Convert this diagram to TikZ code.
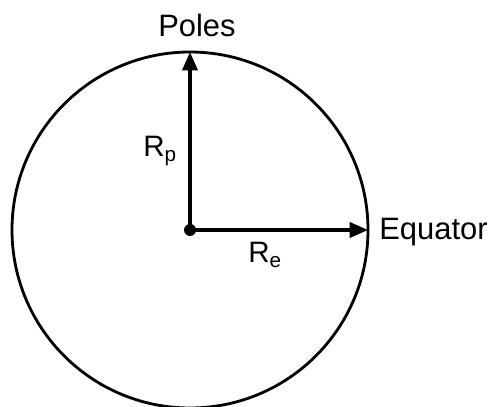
\documentclass[tikz,border=0pt]{standalone}
\usepackage{fontspec}
\setmainfont{Liberation Sans}
\usetikzlibrary{arrows.meta,positioning}
\tikzset{
    every picture/.style={line cap=round,line join=round},
    globe/.style={draw=black,line width=2pt},
    radiusarrow/.style={-{Triangle[length=4.6mm,width=3.8mm]},draw=black,
      line width=2.4pt},
    centerdot/.style={circle,fill=black,minimum size=3mm,inner sep=0pt},
    axislabel/.style={font=\fontsize{22}{26}\selectfont,inner sep=0pt},
    radiuslabel/.style={font=\fontsize{21}{24}\selectfont,inner sep=0pt}
}
\begin{document}
\begin{tikzpicture}[x=0.025cm,y=0.025cm]
  \useasboundingbox (0,0) rectangle (493,407);
  \node[centerdot] (c) at (190,177) {};
  \draw[globe] (c.center) circle[radius=178];
  \coordinate (pole) at (190,355);
  \coordinate (eq) at (368,177);
  \draw[radiusarrow] (c.center) -- (pole);
  \draw[radiusarrow] (c.center) -- (eq);
  \node[axislabel,anchor=base west] (poles) at (158,370) {Poles};
  \node[axislabel,anchor=base west] (equator) at (379,167) {Equator};
  \node[radiuslabel,anchor=base west] (rp) at (143,250) {R\textsubscript{p}};
  \node[radiuslabel,anchor=base west] (re) at (248,144) {R\textsubscript{e}};
\end{tikzpicture}
\end{document}
